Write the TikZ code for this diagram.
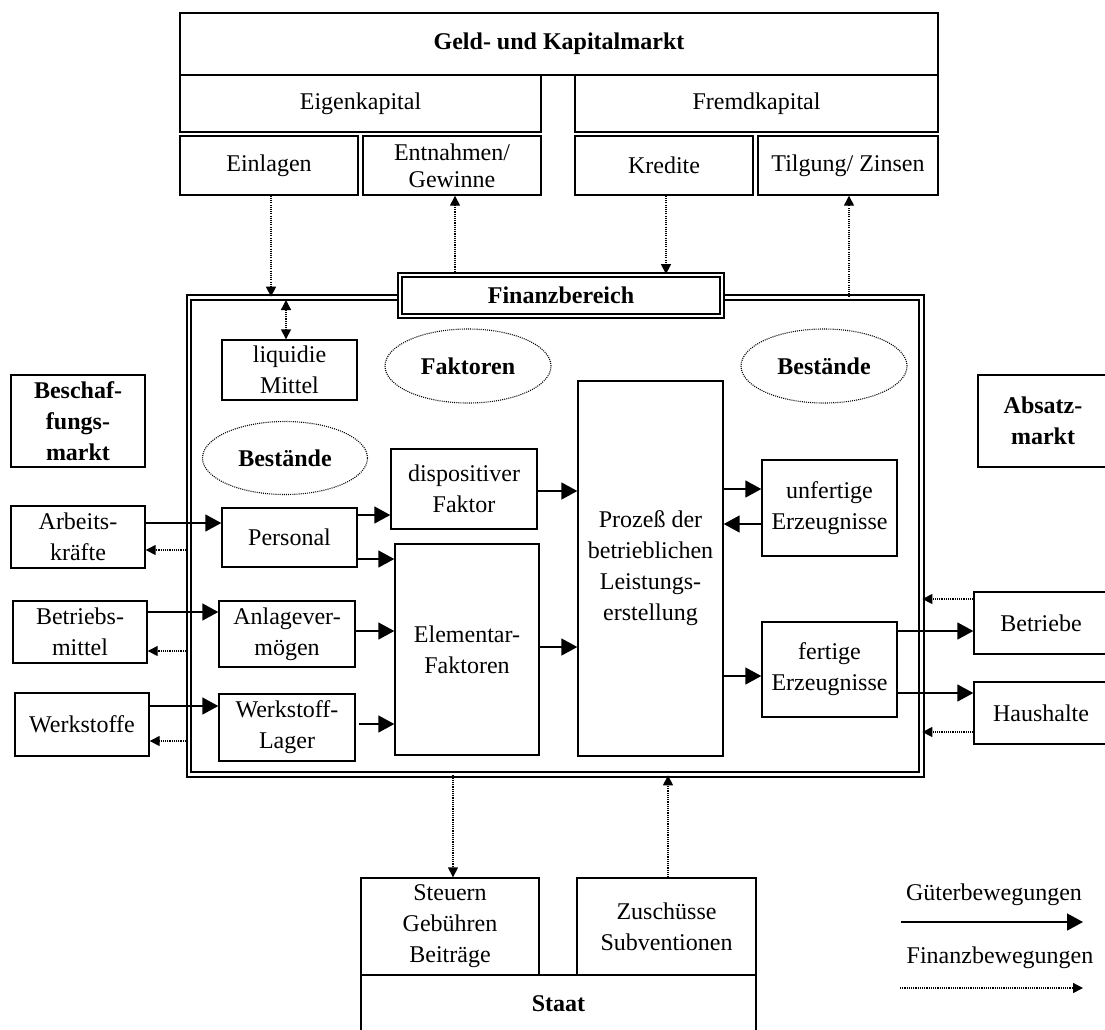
\documentclass[tikz,border=0pt]{standalone}
\usepackage{fontspec}
\setmainfont{Liberation Serif}
\usetikzlibrary{arrows.meta,shapes.geometric}

\begin{document}
\begin{tikzpicture}[x=1pt,y=-1pt,
  every node/.style={font=\fontsize{24}{31}\selectfont},
  wh/.style 2 args={minimum width=#1pt,minimum height=#2pt},
  box/.style={draw,line width=1.4pt,rectangle,inner sep=0pt,align=center,fill=white},
  bold/.style={font=\fontsize{24}{31}\selectfont\bfseries},
  oval/.style={ellipse,draw,line width=1.1pt,dash pattern=on 1pt off 1.1pt,
               inner sep=0pt,font=\fontsize{24}{31}\selectfont\bfseries},
  dbl/.style={double,double distance=2.6pt,line width=1.8pt},
  goods/.style={line width=1.6pt,-{Triangle[length=16pt,width=17pt]}},
  money/.style={line width=1.4pt,dash pattern=on 1.1pt off 1.1pt,
                -{Triangle[length=10pt,width=10pt]}},
  moneyboth/.style={line width=1.4pt,dash pattern=on 1.1pt off 1.1pt,
                {Triangle[length=10pt,width=10pt]}-{Triangle[length=10pt,width=10pt]}}
]
\useasboundingbox (0,0) rectangle (1105,1029);
\clip (0,0) rectangle (1105,1029);

% capital market
\node[box,bold,wh={758}{62}] (geld) at (559,44) {Geld- und Kapitalmarkt};
\node[box,wh={361}{57}] (eigen) at (360.5,103.5) {Eigenkapital};
\node[box,wh={363}{57}] (fremd) at (756.5,103.5) {Fremdkapital};
\node[box,wh={178}{59}] (einl) at (269,165.5) {Einlagen};
\node[box,wh={178}{59},font=\fontsize{24}{27}\selectfont] (entn) at (452,165.5) {Entnahmen/\\Gewinne};
\node[box,wh={178}{59}] (kred) at (664,165.5) {Kredite};
\node[box,wh={180}{59}] (tilg) at (848,165.5) {Tilgung/ Zinsen};

% company frame
\node[draw,dbl,rectangle,inner sep=0pt,wh={732.5}{477}] (frame) at (555.25,536) {};
\node[box,bold,dbl,wh={322}{41}] (fin) at (561,295.5) {Finanzbereich};

\node[box,wh={135}{60}] (liq) at (289.5,370) {liquidie\\Mittel};
\node[oval,wh={166}{74}] (fakt) at (468,366) {Faktoren};
\node[oval,wh={166}{74}] (bestR) at (824,366) {Bestände};
\node[oval,wh={165}{73}] (bestL) at (285,458) {Bestände};

\node[box,wh={135}{59}] (pers) at (289.5,537.5) {Personal};
\node[box,wh={136}{66}] (anl) at (287,634) {Anlagever-\\mögen};
\node[box,wh={136}{67}] (wlag) at (287,727.5) {Werkstoff-\\Lager};
\node[box,wh={146}{80}] (disp) at (464,489) {dispositiver\\Faktor};
\node[box,wh={144}{211}] (elem) at (467,649.5) {Elementar-\\Faktoren};
\node[box,wh={145}{375}] (proz) at (650.5,568.5) {Prozeß der\\betrieblichen\\Leistungs-\\erstellung};
\node[box,wh={135}{96}] (unf) at (829.5,508) {unfertige\\Erzeugnisse};
\node[box,wh={135}{95}] (fert) at (829.5,669.5) {fertige\\Erzeugnisse};

% procurement market
\node[box,bold,wh={134}{92}] (besch) at (78,421) {Beschaf-\\fungs-\\markt};
\node[box,wh={134}{62}] (arb) at (78,537) {Arbeits-\\kräfte};
\node[box,wh={134}{62}] (betrm) at (80,632) {Betriebs-\\mittel};
\node[box,wh={134}{63}] (werk) at (82,724.5) {Werkstoffe};

% sales market
\node[box,bold,wh={130}{92}] (absatz) at (1043,421) {Absatz-\\markt};
\node[box,wh={134}{62}] (betr) at (1041,623) {Betriebe};
\node[box,wh={134}{62}] (haus) at (1041,713) {Haushalte};

% state
\node[box,wh={395}{57}] (staat) at (558.5,1003.5) {\textbf{Staat}};
\node[box,wh={178}{97}] (steu) at (450,926.5) {Steuern\\Gebühren\\Beiträge};
\node[box,wh={179}{97}] (zusch) at (666.5,926.5) {Zuschüsse\\Subventionen};

% flows of goods
\draw[goods] (arb.east |- 0,523) -- (pers.west |- 0,523);
\draw[goods] (betrm.east |- 0,612) -- (anl.west |- 0,612);
\draw[goods] (werk.east |- 0,706) -- (wlag.west |- 0,706);
\draw[goods] (pers.east |- 0,515) -- (disp.west |- 0,515);
\draw[goods] (pers.east |- 0,559) -- (elem.west |- 0,559);
\draw[goods] (anl.east |- 0,631) -- (elem.west |- 0,631);
\draw[goods] ([xshift=3pt]wlag.east |- 0,724) -- (elem.west |- 0,724);
\draw[goods] (disp.east |- 0,491) -- (proz.west |- 0,491);
\draw[goods] (elem.east |- 0,647) -- (proz.west |- 0,647);
\draw[goods] (proz.east |- 0,489) -- (unf.west |- 0,489);
\draw[goods] (unf.west |- 0,524) -- (proz.east |- 0,524);
\draw[goods] (proz.east |- 0,676) -- (fert.west |- 0,676);
\draw[goods] (fert.east |- 0,631) -- (betr.west |- 0,631);
\draw[goods] (fert.east |- 0,693) -- (haus.west |- 0,693);

% flows of money
\draw[money] (frame.west |- 0,550) -- (arb.east |- 0,550);
\draw[money] (frame.west |- 0,651) -- (betrm.east |- 0,651);
\draw[money] (frame.west |- 0,741) -- (werk.east |- 0,741);
\draw[money] (betr.west |- 0,599) -- (frame.east |- 0,599);
\draw[money] (haus.west |- 0,732) -- (frame.east |- 0,732);
\draw[money] ([xshift=2pt]einl.south) -- ([xshift=2pt]einl.south |- frame.north);
\draw[money] ([xshift=3pt]entn.south |- fin.north) -- ([xshift=3pt]entn.south);
\draw[money] ([xshift=2pt]kred.south) -- ([xshift=2pt]kred.south |- fin.north);
\draw[money] ([xshift=1pt]tilg.south |- frame.north) -- ([xshift=1pt]tilg.south);
\draw[moneyboth] ([xshift=-3.5pt]liq.north |- 0,300) -- ([xshift=-3.5pt]liq.north);
\draw[money] ([xshift=3pt]steu.north |- frame.south) -- ([xshift=3pt]steu.north);
\draw[money] ([xshift=1.5pt]zusch.north) -- ([xshift=1.5pt]zusch.north |- frame.south);

% legend
\node (legG) at (994,895) {Güterbewegungen};
\coordinate (legGa) at (901,922);
\coordinate (legGb) at (1083,922);
\draw[goods] (legGa) -- (legGb);
\node (legF) at (1000,958) {Finanzbewegungen};
\coordinate (legFa) at (900,988);
\coordinate (legFb) at (1083,988);
\draw[money] (legFa) -- (legFb);
\end{tikzpicture}
\end{document}
